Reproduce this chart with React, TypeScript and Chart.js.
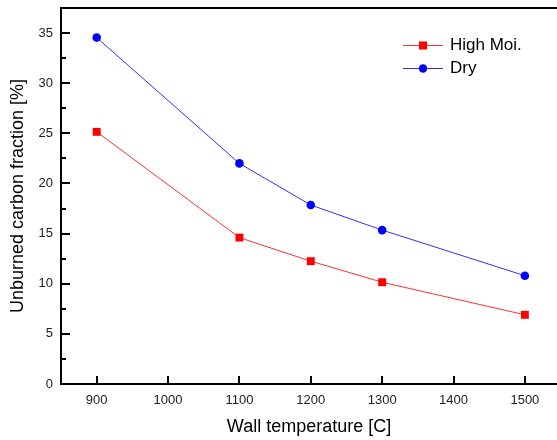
import React, { useEffect, useRef } from "react";
import { Chart, registerables } from "chart.js";

Chart.register(...registerables);

// ---- data ----
const temperatures = [900, 1100, 1200, 1300, 1500];
const highMoi = [25.15, 14.6, 12.25, 10.15, 6.9];
const dry = [34.55, 22.0, 17.85, 15.35, 10.8];
const seriesLabels = ["High Moi.", "Dry"];
const xTickValues = [900, 1000, 1100, 1200, 1300, 1400, 1500];
const yTickValues = [0, 5, 10, 15, 20, 25, 30, 35];
const yMinorTickValues = [2.5, 7.5, 12.5, 17.5, 22.5, 27.5, 32.5];
const xTitle = "Wall temperature [C]";
const yTitle = "Unburned carbon fraction [%]";

const FONT = "'Liberation Sans', Arial, sans-serif";

const framePlugin = {
  id: "frameTicks",
  afterDraw(chart: any) {
    const { ctx, chartArea: a, scales } = chart;
    const xs = scales.x;
    const ys = scales.y;
    ctx.save();
    ctx.strokeStyle = "#000";
    ctx.lineWidth = 2;
    ctx.beginPath();
    ctx.moveTo(a.left - 1, a.top);
    ctx.lineTo(a.right, a.top);
    for (const v of yTickValues) {
      const py = Math.round(ys.getPixelForValue(v));
      ctx.moveTo(a.left, py);
      ctx.lineTo(a.left + 9, py);
    }
    for (const v of yMinorTickValues) {
      const py = Math.round(ys.getPixelForValue(v));
      ctx.moveTo(a.left, py);
      ctx.lineTo(a.left + 5, py);
    }
    for (const v of xTickValues) {
      const px = Math.round(xs.getPixelForValue(v));
      ctx.moveTo(px, a.bottom);
      ctx.lineTo(px, a.bottom - 8);
    }
    ctx.stroke();

    // legend
    const lx = a.right - 154;
    const ly = a.top + 37;
    chart.data.datasets.forEach((ds: any, i: number) => {
      const y = ly + i * 23;
      ctx.strokeStyle = ds.borderColor;
      ctx.lineWidth = 1;
      ctx.beginPath();
      ctx.moveTo(lx, y + 0.5);
      ctx.lineTo(lx + 40, y + 0.5);
      ctx.stroke();
      ctx.fillStyle = ds.pointBackgroundColor;
      if (ds.pointStyle === "rect") {
        ctx.fillRect(lx + 16, y - 3.5, 8, 8);
      } else {
        ctx.beginPath();
        ctx.arc(lx + 20, y + 0.5, 4.2, 0, Math.PI * 2);
        ctx.fill();
      }
      ctx.fillStyle = "#000";
      ctx.font = `17px ${FONT}`;
      ctx.textBaseline = "middle";
      ctx.textAlign = "left";
      ctx.fillText(ds.label, lx + 47, y);
    });
    ctx.restore();
  },
};

export default function App() {
  const ref = useRef<HTMLCanvasElement | null>(null);
  useEffect(() => {
    if (!ref.current) return;
    const chart = new Chart(ref.current, {
      type: "line",
      data: {
        datasets: [
          {
            label: seriesLabels[0],
            data: temperatures.map((t, i) => ({ x: t, y: highMoi[i] })),
            borderColor: "#ff3030",
            backgroundColor: "#ff0000",
            pointBackgroundColor: "#ff0000",
            pointBorderWidth: 0,
            pointStyle: "rect",
            pointRadius: 5.6,
            borderWidth: 1,
            tension: 0,
          },
          {
            label: seriesLabels[1],
            data: temperatures.map((t, i) => ({ x: t, y: dry[i] })),
            borderColor: "#3030ff",
            backgroundColor: "#0000ff",
            pointBackgroundColor: "#0000ff",
            pointBorderWidth: 0,
            pointStyle: "circle",
            pointRadius: 4.3,
            borderWidth: 1,
            tension: 0,
          },
        ],
      },
      options: {
        animation: false,
        responsive: false,
        devicePixelRatio: 1,
        layout: { autoPadding: false, padding: { top: 8, left: 0, right: 0, bottom: 0 } },
        plugins: { legend: { display: false }, tooltip: { enabled: false } },
        scales: {
          x: {
            type: "linear",
            min: 850,
            max: 1545,
            afterBuildTicks: (s: any) => {
              s.ticks = xTickValues.map((v) => ({ value: v }));
            },
            afterFit: (s: any) => {
              s.height = 56;
              s.paddingLeft = 0;
              s.paddingRight = 0;
            },
            grid: { display: false, drawTicks: false },
            border: { display: true, color: "#000", width: 2 },
            ticks: {
              color: "#222",
              font: { family: FONT, size: 13 },
              padding: 9,
              maxRotation: 0,
              autoSkip: false,
              callback: (v: any) => String(v),
            },
            title: {
              display: true,
              text: xTitle,
              color: "#000",
              font: { family: FONT, size: 18 },
              padding: { top: 0, bottom: 2 },
            },
          },
          y: {
            type: "linear",
            min: 0,
            max: 37.5,
            afterBuildTicks: (s: any) => {
              s.ticks = yTickValues.map((v) => ({ value: v }));
            },
            afterFit: (s: any) => {
              s.width = 61;
              s.paddingTop = 0;
              s.paddingBottom = 0;
            },
            grid: { display: false, drawTicks: false },
            border: { display: true, color: "#000", width: 2 },
            ticks: {
              color: "#222",
              font: { family: FONT, size: 13 },
              padding: 8,
              autoSkip: false,
              callback: (v: any) => String(v),
            },
            title: {
              display: true,
              text: yTitle,
              color: "#000",
              font: { family: FONT, size: 18 },
              padding: { top: 7, bottom: 0 },
            },
          },
        },
      },
      plugins: [framePlugin],
    } as any);
    return () => chart.destroy();
  }, []);
  return (
    <div style={{ position: "fixed", left: 0, top: 0, width: 557, height: 440, background: "#fff" }}>
      <canvas ref={ref} width={557} height={440} style={{ display: "block", width: 557, height: 440 }} />
    </div>
  );
}
